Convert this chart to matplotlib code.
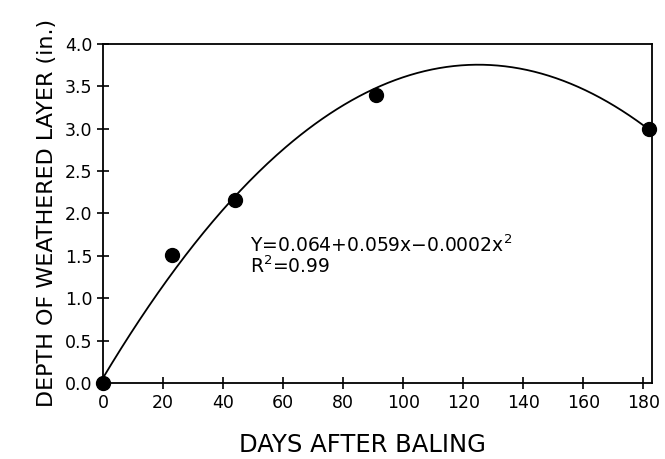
import numpy as np
import matplotlib
matplotlib.use('Agg')
import matplotlib.pyplot as plt

# Measured depth of weathered layer
days = [0, 23, 44, 91, 182]
depth = [0.0, 1.51, 2.16, 3.40, 2.99]

# Quadratic fit coefficients (as drawn on the curve)
fit_c0 = 0.064
fit_c1 = 0.059
fit_c2 = -0.000236
fit_x_max = 182

x_ticks = [0, 20, 40, 60, 80, 100, 120, 140, 160, 180]
y_ticks = [0.0, 0.5, 1.0, 1.5, 2.0, 2.5, 3.0, 3.5, 4.0]

plt.rcParams['font.family'] = ['DejaVu Sans']

fig = plt.figure(figsize=(6.65, 4.59), dpi=100)
ax = fig.add_axes([0.155, 0.165, 0.826, 0.740])

xs = np.linspace(0, fit_x_max, 300)
ax.plot(xs, fit_c0 + fit_c1 * xs + fit_c2 * xs ** 2, color='black', lw=1.3)
ax.plot(days, depth, 'o', color='black', markersize=10, clip_on=False, zorder=3)

ax.set_xlim(0, 183)
ax.set_ylim(0, 4.0)
ax.set_xticks(x_ticks)
ax.set_yticks(y_ticks)
ax.set_yticklabels([f'{v:.1f}' for v in y_ticks])
ax.tick_params(direction='inout', length=9, width=1.2, labelsize=12.5, pad=3)
for s in ax.spines.values():
    s.set_linewidth(1.3)

ax.set_xlabel('DAYS AFTER BALING', fontsize=17.5, va='baseline')
ax.xaxis.set_label_coords(0.472, -0.202)
ax.set_ylabel('DEPTH OF WEATHERED LAYER (in.)', fontsize=16, labelpad=6)

ax.text(49, 1.63, 'Y=0.064+0.059x\u22120.0002x$^2$', fontsize=13.5, va='center')
ax.text(49, 1.38, 'R$^2$=0.99', fontsize=13.5, va='center')

fig.savefig('out.png', dpi=100)
